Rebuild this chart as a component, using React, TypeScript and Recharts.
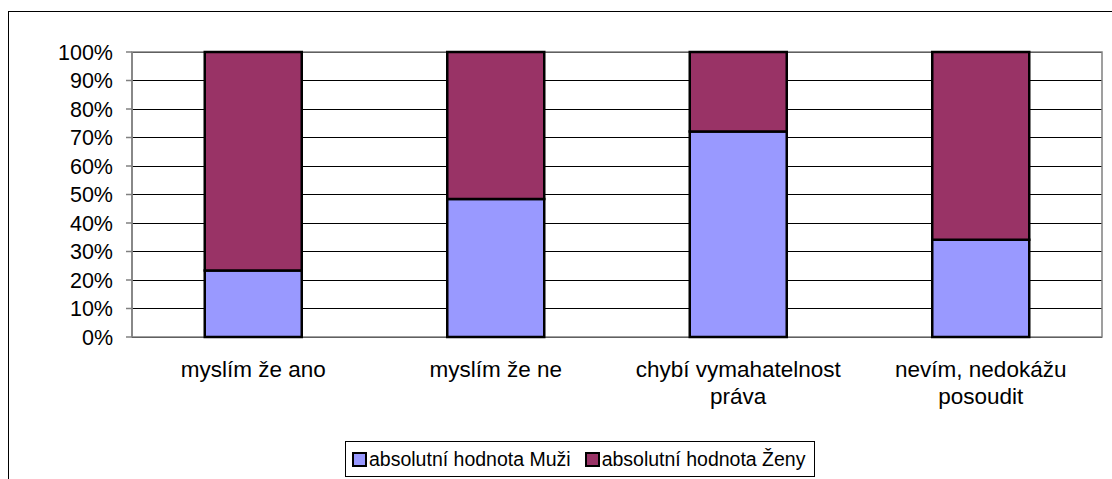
import React from 'react';
import { BarChart, Bar, XAxis, YAxis, CartesianGrid, Legend, ReferenceArea } from 'recharts';

const categories = ['myslím že ano', 'myslím že ne', 'chybí vymahatelnost práva', 'nevím, nedokážu posoudit'];
const muzi = [23.3, 48.4, 72.1, 34.1];
const zeny = [76.7, 51.6, 27.9, 65.9];
const yTicks = [0, 10, 20, 30, 40, 50, 60, 70, 80, 90, 100];
const boundaryTicks = [0, 1, 2, 3, 4];
const seriesNames = ['absolutní hodnota Muži', 'absolutní hodnota Ženy'];
const seriesColors = ['#9999FF', '#993366'];

const FONT = '"Liberation Sans", Arial, sans-serif';

const data = categories.map((c, i) => ({ name: c, muzi: muzi[i], zeny: zeny[i] }));

function wrap(text: string, max: number): string[] {
  const words = text.split(' ');
  const lines: string[] = [];
  let cur = '';
  for (const w of words) {
    const next = cur ? cur + ' ' + w : w;
    if (next.length > max && cur) {
      lines.push(cur);
      cur = w;
    } else {
      cur = next;
    }
  }
  if (cur) lines.push(cur);
  return lines;
}

const CatTick = (props: any) => {
  const { x, y, payload } = props;
  const lines = wrap(String(payload.value), 20);
  return (
    <text x={x} y={y + 40} textAnchor="middle" fontSize={22.5} fontFamily={FONT} fill="#000">
      {lines.map((l, i) => (
        <tspan key={i} x={x} dy={i === 0 ? 0 : 27}>
          {l}
        </tspan>
      ))}
    </text>
  );
};

const LegendBox = () => (
  <div
    style={{
      width: 470,
      height: 36,
      border: '1px solid #000',
      boxSizing: 'border-box',
      display: 'flex',
      alignItems: 'center',
      paddingLeft: 6,
      fontFamily: FONT,
      fontSize: 19.5,
      color: '#000',
      background: '#fff',
    }}
  >
    {seriesNames.map((n, i) => (
      <div key={n} style={{ display: 'flex', alignItems: 'center', marginRight: i === 0 ? 14 : 0 }}>
        <span
          style={{
            display: 'inline-block',
            width: 15,
            height: 15,
            boxSizing: 'border-box',
            border: '2px solid #000',
            background: seriesColors[i],
            marginRight: 2,
          }}
        />
        <span style={{ whiteSpace: 'nowrap' }}>{n}</span>
      </div>
    ))}
  </div>
);

export default function App() {
  return (
    <div style={{ position: 'absolute', left: 0, top: 0, width: 1112, height: 479, overflow: 'hidden', background: '#fff' }}>
      <div
        style={{
          position: 'absolute',
          left: 8,
          top: 11,
          width: 1300,
          height: 700,
          border: '1px solid #000',
        }}
      />
      <div style={{ position: 'absolute', left: 0, top: 0 }}>
        <BarChart
          width={1112}
          height={479}
          data={data}
          margin={{ top: 52, right: 10, left: 0, bottom: 46 }}
          barCategoryGap="30%"
        >
          <CartesianGrid xAxisId="cat" vertical={false} stroke="#000" strokeWidth={1} shapeRendering="crispEdges" />
          <ReferenceArea xAxisId="cat" y1={0} y2={100} fill="none" stroke="#808080" strokeWidth={1.5} />
          <XAxis
            xAxisId="bnd"
            type="number"
            domain={[0, 4]}
            ticks={boundaryTicks}
            tick={false}
            tickSize={6}
            height={0}
            axisLine={{ stroke: '#808080', strokeWidth: 1.5 }}
            tickLine={{ stroke: '#808080', strokeWidth: 1.5 }}
            allowDataOverflow
          />
          <XAxis
            xAxisId="cat"
            dataKey="name"
            interval={0}
            tickLine={false}
            axisLine={false}
            tickSize={0}
            tickMargin={0}
            height={60}
            tick={<CatTick />}
          />
          <YAxis
            width={132}
            domain={[0, 100]}
            ticks={yTicks}
            interval={0}
            tickFormatter={(v: number) => `${v}%`}
            tick={{ fontSize: 21.5, fill: '#000', fontFamily: FONT }}
            tickSize={6}
            tickMargin={13}
            axisLine={{ stroke: '#808080', strokeWidth: 1.5 }}
            tickLine={{ stroke: '#808080', strokeWidth: 1.5 }}
          />
          <Legend verticalAlign="bottom" content={<LegendBox />} wrapperStyle={{ left: 345, top: 441, width: 470 }} />
          <Bar xAxisId="cat" dataKey="muzi" name={seriesNames[0]} stackId="a" fill={seriesColors[0]} stroke="#000" strokeWidth={2.5} isAnimationActive={false} />
          <Bar xAxisId="cat" dataKey="zeny" name={seriesNames[1]} stackId="a" fill={seriesColors[1]} stroke="#000" strokeWidth={2.5} isAnimationActive={false} />
        </BarChart>
      </div>
    </div>
  );
}
